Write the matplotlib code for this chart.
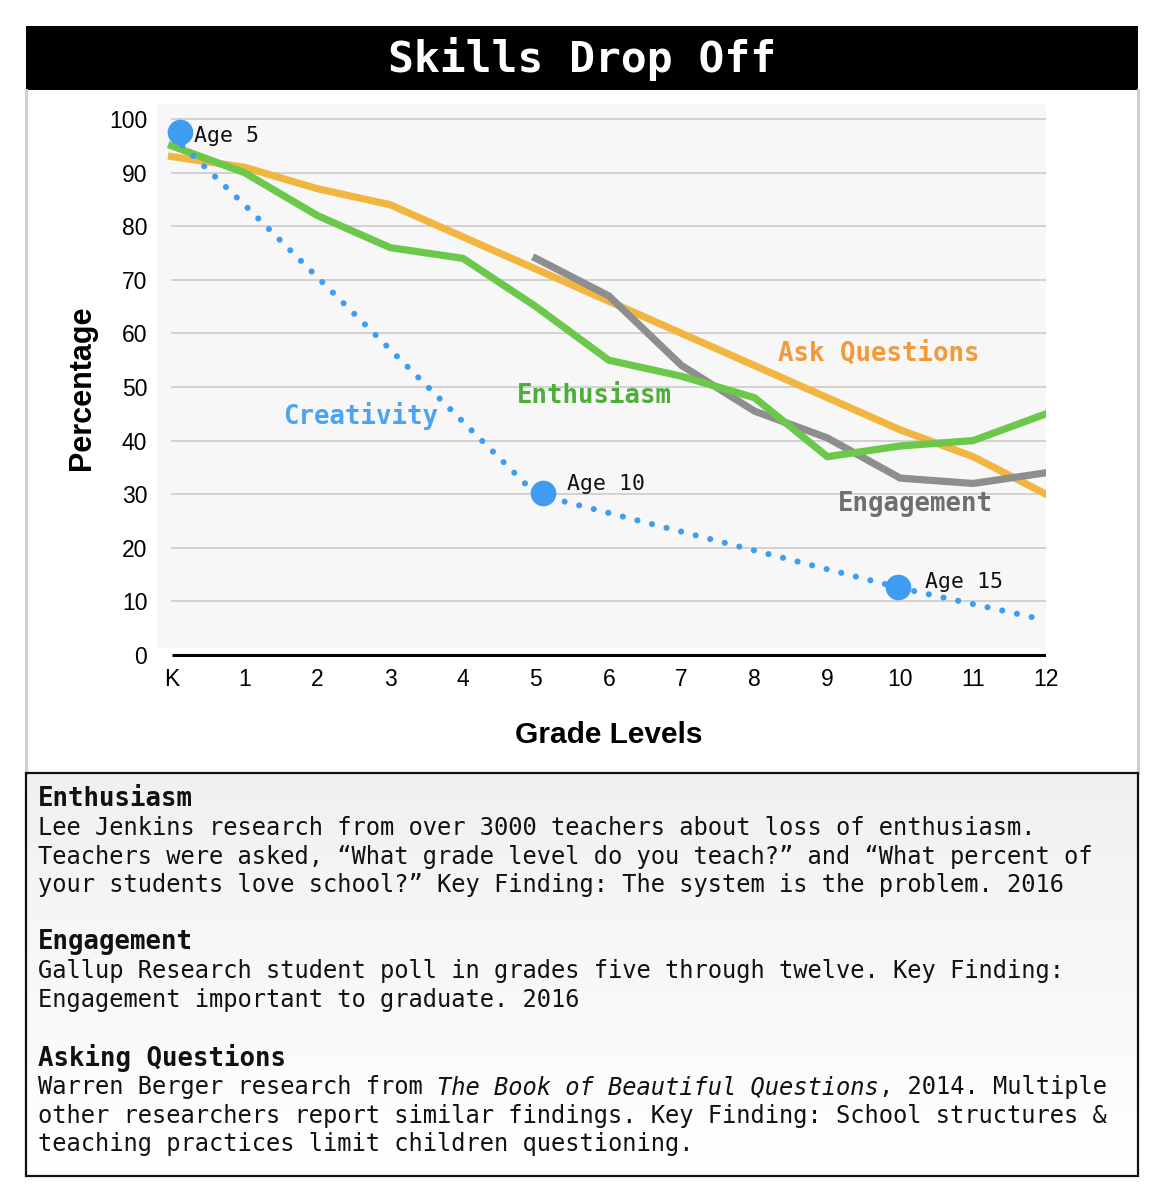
import matplotlib.pyplot as plt
from matplotlib.patches import Rectangle
import numpy as np

W, H = 1166, 1200

grades = list(range(13))
grade_labels = ['K', '1', '2', '3', '4', '5', '6', '7', '8', '9', '10', '11', '12']

ask_questions = [93, 91, 87, 84, 78, 72, 66, 60, 54, 48, 42, 37, 30]
enthusiasm = [95, 90, 82, 76, 74, 65, 55, 52, 48, 37, 39, 40, 45]
engagement_grades = [5, 6, 7, 8, 9, 10, 11, 12]
engagement = [74, 67, 54, 45.5, 40.5, 33, 32, 34]
creativity = [97, 84, 70.5, 57, 43.5, 30, 26.5, 23, 19.5, 16, 12.5, 9.5, 6.5]

age_grades = [0.12, 5.1, 9.97]
age_values = [97.5, 30.2, 12.7]
age_labels = ['Age 5', 'Age 10', 'Age 15']

notes = [
    ('Enthusiasm', [
        [('Lee Jenkins research from over 3000 teachers about loss of enthusiasm.', 'normal')],
        [('Teachers were asked, \u201cWhat grade level do you teach?\u201d and \u201cWhat percent of', 'normal')],
        [('your students love school?\u201d Key Finding: The system is the problem. 2016', 'normal')],
    ]),
    ('Engagement', [
        [('Gallup Research student poll in grades five through twelve. Key Finding:', 'normal')],
        [('Engagement important to graduate. 2016', 'normal')],
    ]),
    ('Asking Questions', [
        [('Warren Berger research from ', 'normal'),
         ('The Book of Beautiful Questions', 'italic'),
         (', 2014. Multiple', 'normal')],
        [('other researchers report similar findings. Key Finding: School structures &', 'normal')],
        [('teaching practices limit children questioning.', 'normal')],
    ]),
]
header_y = [799, 942, 1058]

mono = 'DejaVu Sans Mono'
sans = 'Liberation Sans'

fig = plt.figure(figsize=(W / 100, H / 100), dpi=100, facecolor='white')

def fx(px):
    return px / W

def fy(py):
    return 1 - py / H

# frame pieces
bg = fig.add_axes([0, 0, 1, 1])
bg.set_xlim(0, W)
bg.set_ylim(H, 0)
bg.axis('off')
bg.add_patch(Rectangle((26, 26), 1112, 64, facecolor='black', edgecolor='none'))
bg.plot([26, 26], [90, 773], color='#d0d0d0', lw=2.2)
bg.plot([1138, 1138], [90, 773], color='#d0d0d0', lw=2.2)
# text box with gradient
grad = np.linspace(0, 1, 256).reshape(-1, 1)
bg.imshow(grad, extent=(26, 1138, 1176, 773), cmap='Greys_r', vmin=-7, vmax=1,
          aspect='auto', zorder=1)
bg.add_patch(Rectangle((26, 773), 1112, 403, facecolor='none', edgecolor='#111111',
                       lw=1.6, zorder=2))
bg.text(582, 59, 'Skills Drop Off', color='white', fontsize=31, fontweight='bold',
        family=mono, ha='center', va='center')

# main chart
ax = fig.add_axes([fx(157), fy(660), fx(1046 - 157), (660 - 104) / H])
ax.set_xlim(-0.2, 12)
ax.set_ylim(-0.93, 102.8)
ax.patch.set_alpha(0)
for s in ax.spines.values():
    s.set_visible(False)
ax.add_patch(Rectangle((-0.2, 1.3), 12.2, 101.5, facecolor='#f7f7f7', edgecolor='none', zorder=0))
for v in range(10, 101, 10):
    ax.plot([0, 12], [v, v], color='#cfcfcf', lw=1.3, zorder=1)
ax.plot([0, 12], [0, 0], color='black', lw=2.2, zorder=1, solid_capstyle='butt')

ax.plot(grades, ask_questions, color='#f2b53f', lw=5.2, zorder=3, solid_joinstyle='round')
ax.plot(engagement_grades, engagement, color='#8e8e8e', lw=5.2, zorder=3, solid_joinstyle='round')
ax.plot(grades, enthusiasm, color='#6cc84a', lw=5.2, zorder=4, solid_joinstyle='round')
ax.plot(grades, creativity, color='#3f9cf0', lw=4.4, linestyle=(0, (0.01, 2.45)),
        dash_capstyle='round', zorder=5)
ax.scatter(age_grades, age_values, s=340, color='#3f9cf0', zorder=6, linewidths=0)

offsets = [(0.19, -0.6), (0.32, 1.7), (0.37, 1.0)]
for g, v, lab, (dx, dy) in zip(age_grades, age_values, age_labels, offsets):
    ax.text(g + dx, v + dy, lab, family=mono, fontsize=15.5, color='#111111',
            ha='left', va='center', zorder=7)

lbl = dict(family=mono, fontsize=18.5, fontweight='bold', ha='left', va='center', zorder=7)
ax.text(1.53, 44.5, 'Creativity', color='#4ba3f2', **lbl)
ax.text(4.74, 48.3, 'Enthusiasm', color='#4fae3a', **lbl)
ax.text(8.32, 56.3, 'Ask Questions', color='#f2993a', **lbl)
ax.text(9.14, 28.2, 'Engagement', color='#6e6e6e', **lbl)

ax.set_xticks(grades)
ax.set_xticklabels(grade_labels)
ax.set_yticks(range(0, 101, 10))
ax.tick_params(length=0, labelsize=16.5)
ax.tick_params(axis='x', pad=6)
ax.tick_params(axis='y', pad=7)
for t in ax.get_xticklabels() + ax.get_yticklabels():
    t.set_family(sans)

fig.text(fx(82), fy(388), 'Percentage', rotation=90, family=sans, fontsize=22,
         fontweight='bold', ha='center', va='center')
fig.text(fx(609), fy(735), 'Grade Levels', family=sans, fontsize=21.5,
         fontweight='bold', ha='center', va='center')

# notes in the box
body_size = 17.1
renderer = fig.canvas.get_renderer()
for (head, lines), hy in zip(notes, header_y):
    bg.text(38, hy, head, family=mono, fontsize=18.5, fontweight='bold',
            ha='left', va='center', zorder=3, color='#111111')
    for i, parts in enumerate(lines):
        x = 38
        for txt, style in parts:
            t = bg.text(x, hy + 29 + i * 28.6, txt, family=mono, fontsize=body_size,
                        style=style, ha='left', va='center', zorder=3, color='#111111')
            ext = t.get_window_extent(renderer=renderer)
            x += ext.width * W / fig.bbox.width

fig.savefig('out.png', dpi=100, facecolor='white')
